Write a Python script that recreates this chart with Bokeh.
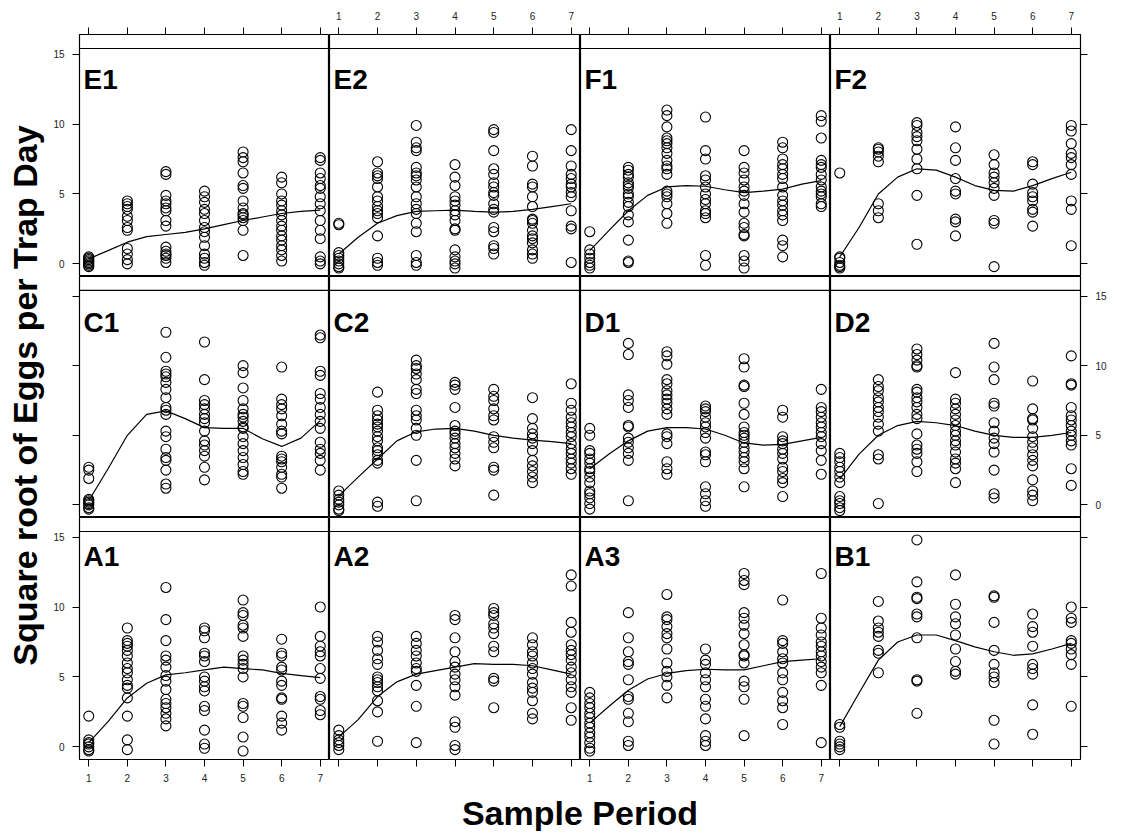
import math
from bokeh.plotting import figure
from bokeh.layouts import column, row
from bokeh.models import Range1d, LinearAxis, FixedTicker, Span, CustomJSTickFormatter
from bokeh.core.properties import value
from bokeh.embed import file_html
from bokeh.resources import INLINE

# ---------------- data ----------------
periods = [1, 2, 3, 4, 5, 6, 7]
fit_x = [1.0, 1.5, 2.0, 2.5, 3.0, 3.5, 4.0, 4.5, 5.0, 5.5, 6.0, 6.5, 7.0]
y_ticks = [0, 5, 10, 15]
panel_rows = [["E1", "E2", "F1", "F2"],
              ["C1", "C2", "D1", "D2"],
              ["A1", "A2", "A3", "B1"]]
x_title = "Sample Period"
y_title = "Square root of Eggs per Trap Day"

E1_pts = [[0.5, 0.4, 0.3, 0.2, 0.1, 0.0, -0.1, -0.2],
          [4.5, 4.3, 4.1, 3.9, 3.4, 3.1, 2.6, 2.4, 1.1, 0.7, 0.3, 0.0],
          [6.6, 6.4, 4.9, 4.5, 4.3, 4.0, 3.8, 3.1, 2.7, 1.2, 0.9, 0.7, 0.6, 0.4, 0.1],
          [5.2, 4.8, 4.4, 3.9, 3.6, 3.1, 2.6, 2.3, 1.9, 1.3, 0.7, 0.4, 0.1, -0.1],
          [8.0, 7.6, 7.3, 6.5, 5.6, 5.4, 4.5, 4.0, 3.6, 3.5, 3.3, 3.1, 2.4, 0.6],
          [6.2, 5.8, 5.0, 4.5, 4.2, 3.8, 3.5, 3.1, 2.7, 2.4, 2.0, 1.7, 1.3, 1.0, 0.6, 0.2],
          [7.6, 7.4, 6.5, 6.1, 5.6, 5.4, 4.8, 4.3, 3.8, 3.1, 2.4, 1.8, 0.5, 0.2, 0.0]]
E1_fit = [0.36, 0.95, 1.55, 1.95, 2.1, 2.25, 2.5, 2.8, 3.1, 3.35, 3.6, 3.75, 3.85]

E2_pts = [[2.9, 2.8, 0.8, 0.6, 0.4, 0.2, 0.0, -0.2, -0.3],
          [7.3, 6.5, 6.3, 6.1, 5.5, 4.8, 4.5, 4.1, 3.8, 3.6, 3.3, 2.0, 0.4, 0.1, -0.1],
          [9.9, 8.7, 8.3, 8.1, 6.9, 6.5, 6.3, 6.0, 5.5, 4.8, 4.3, 3.9, 3.6, 2.9, 2.3, 0.6, 0.1, -0.1],
          [7.1, 6.2, 5.6, 4.8, 4.5, 4.2, 3.8, 3.5, 3.1, 2.5, 2.4, 1.0, 0.5, 0.2, 0.0, -0.3],
          [9.6, 9.4, 8.1, 6.8, 6.4, 5.8, 5.5, 5.1, 4.9, 4.3, 3.9, 3.7, 2.6, 2.3, 1.3, 1.1, 0.7],
          [7.7, 7.0, 5.7, 5.5, 4.8, 4.1, 3.2, 3.1, 2.9, 2.4, 2.0, 1.8, 1.5, 1.0, 0.7, 0.4],
          [9.6, 8.1, 7.0, 6.4, 6.1, 5.7, 5.5, 5.1, 4.8, 3.8, 2.7, 2.5, 0.1]]
E2_fit = [0.7, 1.9, 2.9, 3.45, 3.75, 3.8, 3.85, 3.75, 3.7, 3.75, 3.9, 4.1, 4.3]

F1_pts = [[2.3, 1.0, 0.7, 0.4, 0.1, -0.1, -0.3],
          [6.9, 6.7, 6.4, 6.2, 5.8, 5.6, 5.4, 5.0, 4.8, 4.4, 4.1, 3.5, 3.0, 1.7, 0.2, 0.1],
          [11.0, 10.6, 9.8, 9.0, 8.8, 8.6, 8.3, 7.9, 7.4, 7.0, 6.8, 6.4, 5.2, 5.0, 4.8, 4.3, 3.6, 2.9],
          [10.5, 8.1, 7.5, 6.3, 6.0, 5.5, 5.0, 4.6, 4.3, 3.8, 3.6, 3.3, 0.6, -0.1],
          [8.1, 6.9, 6.5, 6.0, 5.5, 5.2, 4.9, 4.3, 3.7, 2.9, 2.6, 2.1, 2.0, 0.6, 0.2, -0.3],
          [8.7, 8.3, 7.5, 7.1, 6.8, 6.4, 6.1, 5.5, 4.9, 4.5, 4.2, 3.8, 3.5, 3.1, 1.7, 1.3, 0.5],
          [10.6, 10.2, 9.0, 7.4, 7.1, 6.9, 6.4, 6.0, 5.5, 5.2, 5.0, 4.8, 4.3, 4.1]]
F1_fit = [0.95, 2.4, 3.8, 4.9, 5.5, 5.6, 5.55, 5.3, 5.1, 5.2, 5.35, 5.7, 5.95]

F2_pts = [[6.5, 0.5, 0.4, 0.1, -0.1, -0.2, -0.3],
          [8.3, 8.2, 8.0, 7.7, 7.3, 4.3, 3.8, 3.3],
          [10.1, 9.9, 9.4, 9.1, 8.8, 8.2, 7.5, 6.8, 4.9, 1.4],
          [9.8, 8.3, 7.4, 6.1, 5.2, 5.0, 3.2, 3.0, 2.0],
          [7.8, 7.1, 6.5, 6.2, 5.8, 5.4, 4.9, 3.1, 2.9, -0.2],
          [7.3, 7.1, 5.7, 5.1, 4.8, 4.5, 3.9, 3.7, 2.7],
          [9.9, 9.5, 8.6, 7.9, 7.6, 7.1, 6.4, 4.5, 3.9, 1.3]]
F2_fit = [0.5, 2.6, 5.0, 6.2, 6.8, 6.7, 6.2, 5.6, 5.25, 5.2, 5.6, 6.1, 6.55]

C1_pts = [[2.7, 2.5, 1.9, 0.4, 0.3, 0.2, 0.1, 0.0, -0.2, -0.3],
          [],
          [12.4, 10.6, 9.6, 9.4, 9.2, 8.8, 8.3, 7.7, 7.0, 6.8, 6.5, 5.3, 4.9, 4.0, 3.4, 3.2, 2.5, 1.5, 1.2],
          [11.7, 9.0, 7.5, 7.2, 6.9, 6.5, 6.2, 5.9, 5.3, 4.6, 4.3, 3.9, 3.5, 2.7, 1.8],
          [10.0, 9.5, 8.4, 7.5, 6.9, 6.5, 6.3, 6.0, 5.6, 5.5, 4.9, 4.4, 3.9, 3.4, 2.9, 2.4, 2.2],
          [9.9, 7.6, 7.2, 6.9, 6.4, 5.8, 5.3, 5.1, 3.5, 3.3, 3.1, 2.7, 2.2, 2.0, 1.2],
          [12.2, 12.0, 9.6, 9.3, 8.0, 7.6, 7.0, 6.5, 6.0, 5.5, 4.5, 4.0, 3.7, 3.2, 2.5]]
C1_fit = [0.3, 2.6, 5.0, 6.5, 6.75, 6.2, 5.55, 5.5, 5.5, 4.75, 4.2, 4.8, 6.05]

C2_pts = [[1.0, 0.7, 0.4, 0.2, 0.0, -0.3, -0.4],
          [8.1, 6.8, 6.4, 6.1, 5.8, 5.6, 5.3, 4.9, 4.6, 4.1, 3.9, 3.6, 3.2, 3.0, 0.2, -0.1],
          [10.4, 10.0, 9.8, 9.4, 9.0, 8.3, 8.0, 6.8, 6.4, 6.1, 5.5, 5.0, 3.2, 0.3],
          [8.8, 8.6, 8.3, 7.0, 5.7, 5.3, 5.1, 4.8, 4.4, 4.1, 3.7, 3.3, 2.8],
          [8.3, 7.8, 7.5, 6.9, 6.4, 6.1, 4.9, 4.5, 4.1, 2.7, 2.5, 0.7],
          [7.7, 6.2, 5.5, 5.1, 4.8, 4.4, 3.9, 3.2, 2.8, 2.4, 2.0, 1.6],
          [8.7, 7.3, 6.8, 6.3, 5.9, 5.6, 5.2, 4.9, 4.4, 4.0, 3.7, 3.3, 3.0, 2.6, 2.2]]
C2_fit = [0.65, 2.0, 3.3, 4.6, 5.25, 5.45, 5.5, 5.3, 5.0, 4.8, 4.65, 4.55, 4.4]

D1_pts = [[5.5, 5.0, 3.9, 3.7, 3.3, 3.0, 2.6, 2.4, 2.0, 1.6, 1.0, 0.8, 0.5, 0.1, -0.3],
          [11.6, 10.8, 7.9, 7.5, 7.0, 5.7, 5.6, 4.8, 4.5, 4.1, 3.7, 3.2, 0.3],
          [11.0, 10.7, 10.1, 9.0, 8.7, 8.2, 7.9, 7.6, 7.3, 6.9, 6.5, 5.1, 4.9, 4.4, 3.1, 2.6, 2.2],
          [7.1, 6.9, 6.7, 6.3, 5.9, 5.6, 5.2, 4.8, 3.8, 3.6, 3.1, 1.3, 0.8, 0.3, -0.1],
          [10.5, 9.9, 8.6, 8.5, 7.3, 6.5, 5.6, 5.2, 5.0, 4.8, 4.5, 4.1, 3.8, 3.4, 3.1, 2.6, 1.3],
          [6.8, 6.3, 4.9, 4.6, 4.4, 4.0, 3.7, 3.3, 2.7, 2.4, 1.9, 1.6, 0.6],
          [8.3, 7.0, 6.7, 6.3, 5.9, 5.6, 5.2, 4.9, 4.4, 3.9, 3.2, 2.2]]
D1_fit = [2.6, 3.65, 4.6, 5.3, 5.55, 5.55, 5.45, 5.0, 4.45, 4.3, 4.35, 4.6, 4.85]

D2_pts = [[3.7, 3.4, 3.1, 2.7, 2.4, 2.0, 1.6, 0.6, 0.3, 0.1, -0.2, -0.4],
          [9.0, 8.5, 8.2, 7.7, 7.4, 7.0, 6.7, 6.3, 5.8, 5.3, 3.6, 3.3, 0.1],
          [11.2, 10.8, 10.4, 10.0, 9.9, 8.3, 8.1, 7.7, 7.4, 7.0, 6.5, 6.2, 5.1, 4.3, 4.0, 3.7, 3.1, 2.4],
          [9.5, 7.6, 7.3, 6.9, 6.5, 6.1, 5.7, 5.3, 5.0, 4.6, 4.3, 3.8, 3.3, 3.0, 2.6, 1.6],
          [11.6, 9.9, 9.0, 7.3, 7.1, 5.9, 5.3, 4.8, 4.4, 3.8, 2.5, 0.8, 0.5],
          [8.9, 6.9, 6.2, 6.1, 5.5, 4.9, 4.5, 4.1, 3.6, 3.2, 2.8, 1.8, 1.0, 0.7, 0.3],
          [10.7, 8.7, 8.6, 7.0, 6.4, 6.1, 5.7, 5.3, 5.0, 4.6, 4.3, 2.6, 1.4]]
D2_fit = [1.85, 3.65, 5.0, 5.7, 6.0, 5.9, 5.7, 5.3, 5.0, 4.85, 4.85, 5.0, 5.2]

A1_pts = [[2.2, 0.5, 0.3, 0.2, 0.0, -0.2, -0.3],
          [8.5, 7.6, 7.4, 7.2, 6.9, 6.5, 6.0, 5.6, 5.3, 4.8, 4.4, 4.2, 3.5, 2.2, 0.5, -0.2],
          [11.4, 9.1, 7.6, 6.5, 6.2, 5.7, 5.1, 4.7, 4.1, 3.4, 3.1, 2.8, 2.4, 2.0, 1.5],
          [8.5, 8.3, 7.8, 6.7, 6.5, 6.1, 5.0, 4.7, 4.3, 4.0, 2.9, 2.6, 1.2, 0.2, -0.1],
          [10.5, 9.6, 9.4, 8.7, 8.5, 7.9, 6.5, 6.2, 5.9, 5.6, 5.0, 3.1, 2.9, 2.1, 0.7, -0.3],
          [7.7, 6.7, 6.5, 5.7, 5.5, 4.7, 4.4, 3.5, 3.4, 2.2, 1.7, 1.2],
          [10.0, 7.9, 7.2, 6.8, 6.5, 5.6, 4.9, 3.6, 3.4, 2.6, 2.3]]
A1_fit = [0.3, 1.8, 3.5, 4.55, 5.15, 5.3, 5.5, 5.7, 5.6, 5.5, 5.25, 5.1, 4.95]

A2_pts = [[1.2, 0.8, 0.5, 0.3, 0.1, -0.2],
          [7.9, 7.5, 6.9, 6.3, 5.9, 5.0, 4.8, 4.6, 4.3, 4.0, 3.3, 2.5, 0.4],
          [7.9, 7.4, 6.9, 6.5, 6.0, 5.6, 5.4, 4.4, 2.9, 0.3],
          [9.4, 9.1, 7.8, 6.8, 6.1, 5.7, 5.2, 4.8, 4.3, 3.7, 1.8, 1.4, 0.1, -0.2],
          [9.9, 9.6, 9.4, 8.8, 8.5, 8.1, 7.2, 6.8, 4.9, 4.7, 2.8],
          [7.8, 7.3, 6.8, 6.5, 6.0, 5.6, 5.2, 4.6, 4.2, 3.9, 3.3, 2.4, 2.0],
          [12.3, 11.5, 8.9, 8.2, 7.3, 6.9, 6.6, 6.2, 5.7, 5.3, 4.8, 4.3, 3.9, 2.8, 1.9]]
A2_fit = [0.7, 1.95, 3.6, 4.65, 5.2, 5.45, 5.7, 5.95, 5.9, 5.9, 5.8, 5.5, 5.2]

A3_pts = [[3.9, 3.5, 3.1, 2.8, 2.4, 2.1, 1.7, 1.4, 1.0, 0.7, 0.3, -0.1, -0.3],
          [9.6, 7.8, 6.8, 6.1, 5.9, 4.8, 3.6, 3.4, 2.4, 1.8, 0.4, 0.1],
          [10.9, 9.3, 9.1, 8.6, 8.1, 7.8, 7.0, 6.0, 5.4, 5.0, 4.4, 3.5],
          [7.0, 6.2, 5.9, 5.3, 4.8, 4.3, 3.4, 2.9, 2.0, 0.8, 0.4, 0.1],
          [12.4, 11.9, 11.6, 9.6, 9.2, 8.7, 8.1, 7.3, 6.6, 6.5, 6.0, 4.7, 4.3, 3.4, 0.8],
          [10.5, 7.6, 7.4, 6.8, 6.3, 6.0, 5.3, 4.8, 3.9, 3.3, 2.8, 1.6],
          [12.4, 9.2, 8.5, 8.0, 7.5, 7.2, 6.8, 6.5, 6.1, 5.7, 5.3, 4.4, 0.3]]
A3_fit = [1.7, 2.9, 4.05, 4.85, 5.25, 5.45, 5.55, 5.5, 5.5, 5.8, 6.1, 6.2, 6.3]

B1_pts = [[1.6, 1.4, 0.4, 0.2, 0.0, -0.2],
          [10.4, 9.0, 8.5, 8.2, 7.9, 6.9, 6.7, 5.3],
          [14.8, 11.8, 10.7, 10.6, 9.5, 9.3, 7.8, 4.8, 4.7, 2.4],
          [12.3, 10.2, 9.3, 8.8, 8.0, 7.0, 6.1, 5.4, 5.2],
          [10.8, 10.7, 8.9, 6.9, 5.9, 5.3, 5.0, 4.6, 1.9, 0.2],
          [9.5, 8.6, 8.2, 7.2, 5.9, 5.6, 5.2, 3.0, 0.9],
          [10.0, 9.2, 8.9, 7.6, 7.4, 7.0, 6.6, 5.9, 2.9]]
B1_fit = [1.45, 3.85, 6.2, 7.5, 8.0, 8.0, 7.6, 7.15, 6.8, 6.55, 6.65, 7.0, 7.4]

PTS = {"E1": E1_pts, "E2": E2_pts, "F1": F1_pts, "F2": F2_pts,
       "C1": C1_pts, "C2": C2_pts, "D1": D1_pts, "D2": D2_pts,
       "A1": A1_pts, "A2": A2_pts, "A3": A3_pts, "B1": B1_pts}
FIT = {"E1": E1_fit, "E2": E2_fit, "F1": F1_fit, "F2": F2_fit,
       "C1": C1_fit, "C2": C2_fit, "D1": D1_fit, "D2": D2_fit,
       "A1": A1_fit, "A2": A2_fit, "A3": A3_fit, "B1": B1_fit}

# ---------------- layout ----------------
XR = (0.76, 7.24)
YR = (-0.904, 16.404)
STRIP = 15.404
frame_w = [250, 251, 250, 250]
frame_h = [242, 241, 242]
label_drop = [31, 32, 25]   # anchor offset (px) of panel names below the strip line
FONT = "Liberation Sans"
YT_W = 48          # width of the y-title strip
B_LEFT = 31        # left border of first column (tick labels)
B_RIGHT = 30
B_TOP = 34
B_BOTTOM = 28
XT_H = 44


def make_axis(ticks, labels, standoff=8, tick_out=7):
    ax = LinearAxis(ticker=FixedTicker(ticks=ticks),
                    axis_line_color=None,
                    major_tick_in=0, major_tick_out=tick_out,
                    major_tick_line_color="black", major_tick_line_width=1,
                    minor_tick_line_color=None,
                    major_label_text_font=FONT,
                    major_label_text_font_size="10px",
                    major_label_text_color="#222222",
                    major_label_standoff=standoff)
    if not labels:
        ax.formatter = CustomJSTickFormatter(code="return '';")
        ax.major_label_standoff = 0
    return ax


rows = []
for r, names in enumerate(panel_rows):
    figs = []
    for c, name in enumerate(names):
        bl = B_LEFT if c == 0 else 0
        br = B_RIGHT if c == 3 else 0
        bt = B_TOP if r == 0 else 0
        bb = B_BOTTOM if r == 2 else 0
        p = figure(width=frame_w[c] + bl + br, height=frame_h[r] + bt + bb,
                   x_range=Range1d(*XR), y_range=Range1d(*YR),
                   toolbar_location=None, output_backend="svg",
                   x_axis_location=None, y_axis_location=None,
                   min_border_left=bl, min_border_right=br,
                   min_border_top=bt, min_border_bottom=bb,
                   background_fill_color="white", border_fill_color="white",
                   outline_line_color="black", outline_line_width=1.2)
        p.grid.grid_line_color = None

        if r == 0:
            p.add_layout(make_axis(periods, c in (1, 3), standoff=8, tick_out=7), "above")
        if r == 2:
            p.add_layout(make_axis(periods, c in (0, 2), standoff=7), "below")
        if c == 0:
            p.add_layout(make_axis(y_ticks, r in (0, 2), standoff=8), "left")
        if c == 3:
            p.add_layout(make_axis(y_ticks, r == 1, standoff=8), "right")

        p.add_layout(Span(location=STRIP, dimension="width",
                          line_color="black", line_width=1.2))

        xs, ys = [], []
        for per, vals in zip(periods, PTS[name]):
            xs.extend([per] * len(vals))
            ys.extend(vals)
        p.scatter(xs, ys, marker="circle", size=10, fill_color=None,
                  line_color="black", line_width=1.1)
        p.line(fit_x, FIT[name], line_color="black", line_width=1.2)

        ux = (XR[1] - XR[0]) / frame_w[c]
        uy = (YR[1] - YR[0]) / frame_h[r]
        p.text(x=[XR[0] + 4 * ux], y=[STRIP - label_drop[r] * uy], text=[name],
               text_font=value(FONT), text_font_style="bold",
               text_font_size="28px", text_color="black",
               text_align="left", text_baseline="alphabetic")
        figs.append(p)
    rows.append(row(*figs))

grid_h = B_TOP + sum(frame_h) + B_BOTTOM

# y title strip
yfig = figure(width=YT_W, height=grid_h,
              x_range=Range1d(0, YT_W), y_range=Range1d(0, grid_h),
              toolbar_location=None, output_backend="svg",
              x_axis_location=None, y_axis_location=None,
              min_border_left=0, min_border_right=0, min_border_top=0, min_border_bottom=0,
              outline_line_color=None,
              background_fill_color="white", border_fill_color="white")
yfig.grid.grid_line_color = None
yfig.text(x=[24], y=[grid_h - 395], text=[y_title], angle=math.pi / 2,
          text_font=value(FONT), text_font_style="bold", text_font_size="34px",
          text_color="black", text_align="center", text_baseline="alphabetic")

# x title strip
xt_left = YT_W + B_LEFT
xfig = figure(width=xt_left + sum(frame_w), height=XT_H,
              x_range=Range1d(0, 1), y_range=Range1d(0, XT_H),
              toolbar_location=None, output_backend="svg",
              x_axis_location=None, y_axis_location=None,
              min_border_left=xt_left, min_border_right=0,
              min_border_top=0, min_border_bottom=0,
              outline_line_color=None,
              background_fill_color="white", border_fill_color="white")
xfig.grid.grid_line_color = None
xfig.text(x=[0.5], y=[19], text=[x_title], text_font=value(FONT),
          text_font_style="bold", text_font_size="34px", text_color="black",
          text_align="center", text_baseline="alphabetic")

layout = column(row(yfig, column(*rows)), xfig)
open("out.html", "w").write(file_html(layout, INLINE, "Eggs per trap day"))
